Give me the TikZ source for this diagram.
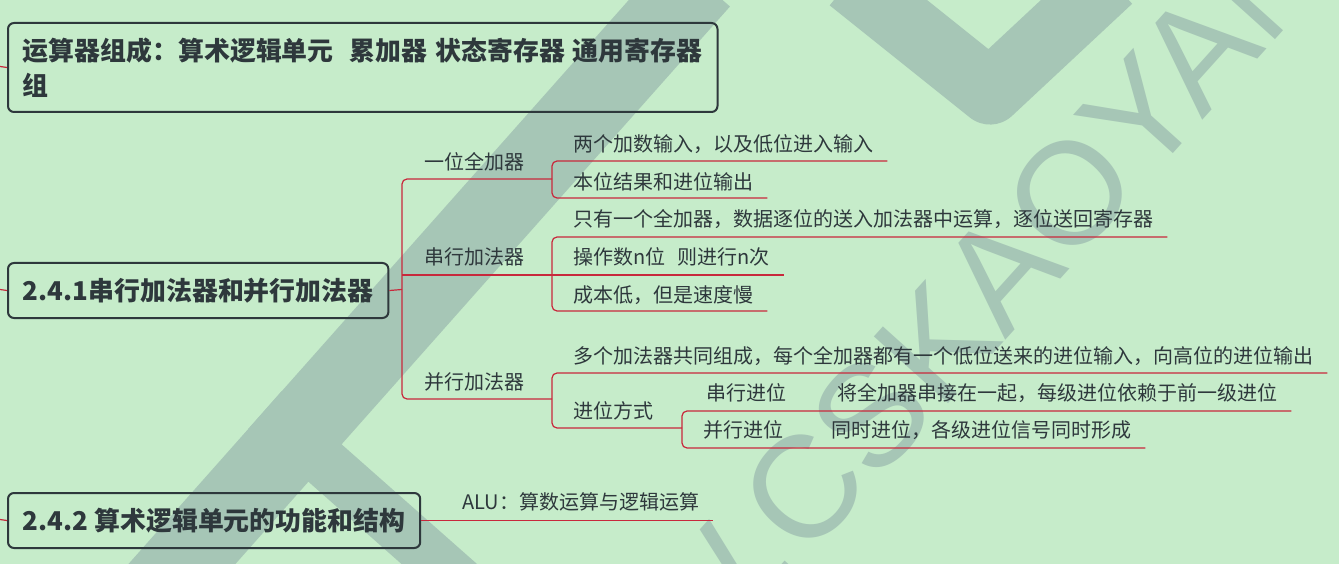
\documentclass[tikz,border=0pt]{standalone}
\usepackage{fontspec}
\setmainfont{Noto Sans CJK SC}
\newfontfamily\wmfont{Liberation Sans}
\usetikzlibrary{positioning}
\definecolor{bgmint}{HTML}{C6ECCA}
\definecolor{wmgreen}{HTML}{A6C6B6}
\definecolor{inkgray}{HTML}{2E383C}
\definecolor{linkred}{HTML}{C8283C}

\begin{document}
\begin{tikzpicture}[x=1pt,y=-1pt,
  topic/.style={draw=inkgray,line width=2pt,rounded corners=6pt,anchor=north west,
    font=\fontsize{25.9}{35}\selectfont\bfseries,text=inkgray,align=left,
    inner xsep=15pt,inner ysep=0pt},
  sub/.style={anchor=west,inner xsep=14pt,inner ysep=2pt,
    font=\fontsize{20}{24}\selectfont,text=inkgray},
  link/.style={draw=linkred,line width=1.2pt,rounded corners=5pt},
  wm/.style={draw=wmgreen,line width=#1}]
\useasboundingbox (0,0) rectangle (1339,564);
\fill[bgmint] (0,0) rectangle (1339,564);

% watermark
\begin{scope}
\clip (0,0) rectangle (1339,564);
\draw[wm=80pt] (150,600) -- (700,-20);
\draw[wm=50pt] (265,410) -- (480,600);
\draw[wm=65pt,line join=round] (850,-20) -- (990,92) -- (1110,-20);
\fill[wmgreen] (452,215) -- (486,182) -- (539,204) -- (504,238) -- cycle;
\node[rotate=48,text=wmgreen,font=\wmfont\fontsize{145}{145}\selectfont] (wmark) at (978,296) {W.CSKAOYAN};
\end{scope}

% topics
\node[topic,minimum height=89pt] (alu) at (7,22)
  {运算器组成：算术逻辑单元\hspace{16pt}累加器\hspace{8pt}状态寄存器\hspace{8pt}通用寄存器\\组};
\node[topic,minimum height=55pt] (adder) at (7,262) {2.4.1串行加法器和并行加法器};
\node[topic,minimum height=55pt] (func) at (7,492) {2.4.2 算术逻辑单元的功能和结构};
\coordinate (in1) at (0,66.5);
\coordinate (in2) at (0,289.5);
\coordinate (in3) at (0,519.5);
\draw[link] (in1) -- (alu.west);
\draw[link] (in2) -- (adder.west);
\draw[link] (in3) -- (func.west);

% 2.4.1
\node[sub] (full) at (410,162) {一位全加器};
\node[sub] (serial) at (410,257) {串行加法器};
\node[sub] (parallel) at (410,382) {并行加法器};
\coordinate (fork) at (402,289.5);
\draw[link] (adder.east) -- (fork);
\draw[link] (552,179) -- (402,179) -- (402,399) -- (552,399);

\node[sub] (fa1) at (559,144) {两个加数输入，以及低位进入输入};
\node[sub] (fa2) at (559,182) {本位结果和进位输出};
\draw[link] (fa1.east |- 0,161) -- (552,161) -- (552,198) -- (fa2.east |- 0,198);

\node[sub] (sa1) at (559,219) {只有一个全加器，数据逐位的送入加法器中运算，逐位送回寄存器};
\node[sub] (sa2) at (559,257) {操作数n位\hspace{12pt}则进行n次};
\node[sub] (sa3) at (559,295) {成本低，但是速度慢};
\draw[link] (sa1.east |- 0,237) -- (552,237) -- (552,311) -- (sa3.east |- 0,311);
\draw[link] (402,275) -- (sa2.east |- 0,275);

\node[sub] (pa1) at (559,356) {多个加法器共同组成，每个全加器都有一个低位送来的进位输入，向高位的进位输出};
\node[sub] (pa2) at (559,411) {进位方式};
\draw[link] (pa1.east |- 0,373) -- (552,373) -- (552,428) -- (682,428);

\node[sub] (rc) at (692,393) {串行进位};
\node[sub] (rcx) at (823,393) {将全加器串接在一起，每级进位依赖于前一级进位};
\node[sub] (cl) at (689,430) {并行进位};
\node[sub] (clx) at (817,430) {同时进位，各级进位信号同时形成};
\draw[link] (rcx.east |- 0,411) -- (682,411) -- (682,448) -- (clx.east |- 0,448);

% 2.4.2
\node[sub] (aluop) at (448,502) {ALU：算数运算与逻辑运算};
\draw[link] (func.east) -- (aluop.east |- func.east);
\end{tikzpicture}
\end{document}
